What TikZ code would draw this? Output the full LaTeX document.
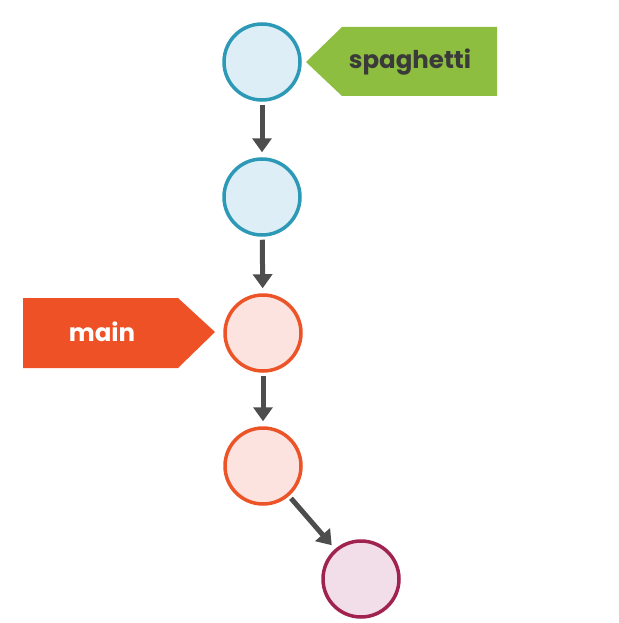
\documentclass[tikz,border=0pt]{standalone}
\usepackage{fontspec}
\setmainfont{Poppins}
\usetikzlibrary{arrows.meta}
\definecolor{bluestroke}{HTML}{2C9AB7}
\definecolor{bluefill}{HTML}{DDEEF7}
\definecolor{orangestroke}{HTML}{EC5428}
\definecolor{orangefill}{HTML}{FDE3E0}
\definecolor{purplestroke}{HTML}{A0224E}
\definecolor{purplefill}{HTML}{F2DEE8}
\definecolor{arrowgray}{HTML}{4D4D4D}
\definecolor{taggreen}{HTML}{8DBE3F}
\definecolor{tagorange}{HTML}{EE5125}
\definecolor{textdark}{HTML}{3A3A3A}
\begin{document}
\begin{tikzpicture}[x=1pt,y=-1pt,
  commit/.style={circle,line width=3.5pt,minimum size=76pt,inner sep=0pt},
  bluec/.style={commit,draw=bluestroke,fill=bluefill},
  orangec/.style={commit,draw=orangestroke,fill=orangefill},
  purplec/.style={commit,draw=purplestroke,fill=purplefill},
  link/.style={draw=arrowgray,line width=5pt,-{Triangle[width=19pt,length=14pt]},shorten <=3pt,shorten >=5pt},
  taglabel/.style={font=\bfseries\fontsize{24.5}{28}\selectfont,inner sep=0pt}
]
\useasboundingbox (0,0) rectangle (618,623);
\fill[white] (0,0) rectangle (618,623);
\node[bluec] (c1) at (262,62) {};
\node[bluec] (c2) at (262,197) {};
\node[orangec] (c3) at (263,333) {};
\node[orangec] (c4) at (263,466) {};
\node[purplec] (c5) at (361,579) {};
\draw[link] (c1) -- (c2);
\draw[link] (c2) -- (c3);
\draw[link] (c3) -- (c4);
\draw[link] (c4) -- (c5);
% tags
\fill[taggreen] (306,62) -- (342,27) -- (497,27) -- (497,96) -- (342,96) -- cycle;
\node[taglabel,text=textdark] (spag) at (410,62) {spaghetti};
\fill[tagorange] (23,298) -- (178,298) -- (215,332) -- (178,368) -- (23,368) -- cycle;
\node[taglabel,text=white] (main) at (102,332) {main};
\end{tikzpicture}
\end{document}
